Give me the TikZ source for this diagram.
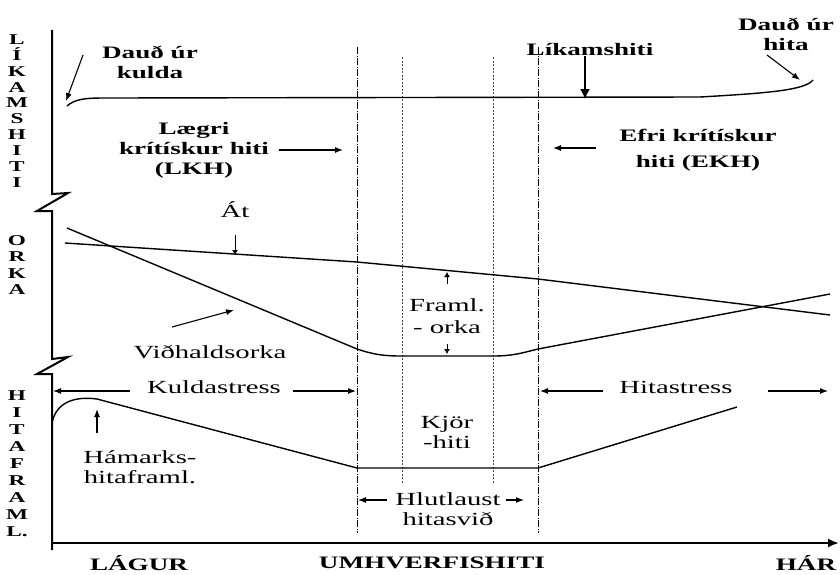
\documentclass[tikz,border=0pt]{standalone}
\usepackage{fontspec}
\setmainfont{Liberation Serif}[FakeStretch=1.55]
\usetikzlibrary{arrows.meta, positioning}

\tikzset{
  lbl/.style={font=\fontsize{18.5}{20}\selectfont, inner sep=0pt, align=center},
  blbl/.style={font=\fontsize{17.5}{20}\selectfont\bfseries, inner sep=0pt, align=center},
  sidelbl/.style={font=\fontsize{15}{#1}\selectfont\bfseries, inner sep=0pt, align=center},
  sidelbl/.default=16,
  axisline/.style={line width=2pt},
  graphline/.style={line width=1.4pt},
  zoneline/.style={line width=0.8pt, dash pattern=on 7pt off 1.5pt on 1pt off 1.5pt},
  optline/.style={line width=0.6pt, black!70, dash pattern=on 2pt off 1.5pt},
  ptr/.style={line width=1.1pt, -{Latex[length=8pt,width=6pt]}},
  bigptr/.style={line width=1.4pt, -{Latex[length=10pt,width=10pt]}},
  sptr/.style={line width=1pt, -{Latex[length=5pt,width=6pt]}},
}

\begin{document}
\begin{tikzpicture}[x=1pt,y=-1pt]
    \useasboundingbox (0,0) rectangle (840,574);

    % axes with breaks
    \draw[axisline] (52,30) -- (52,194) -- (68,193) -- (37,211) -- (52,211) -- (52,359)
        -- (68,357) -- (37,374) -- (52,374) -- (52,550);
    \draw[axisline, -{Latex[length=11pt,width=9pt]}] (52,543) -- (839,543);

    \node[sidelbl=15.9] (likams) at (17,111) {L\\Í\\K\\A\\M\\S\\H\\I\\T\\I};
    \node[sidelbl=16.5] (orka) at (17,265) {O\\R\\K\\A};
    \node[sidelbl=17] (hitafr) at (17,464) {H\\I\\T\\A\\F\\R\\A\\M\\L.};

    % zone borders
    \draw[zoneline] (357,47) -- (357,533);
    \draw[zoneline] (538,47) -- (538,533);
    \draw[optline] (402,57) -- (402,483);
    \draw[optline] (493,57) -- (493,483);

    % body temperature
    \draw[graphline] (67,106) .. controls (75,99) and (85,98) .. (105,98) -- (700,97)
        .. controls (770,93) and (805,90) .. (813,80);
    \node[blbl] (dkulda) at (150,62) {Dauð úr\\kulda};
    \coordinate (kuldafrom) at (83,55);
    \coordinate (kuldatip) at (66,101);
    \draw[ptr] (kuldafrom) -- (kuldatip);

    \node[blbl] (likam) at (590,50) {Líkamshiti};
    \coordinate (likamtip) at (585,99);
    \draw[bigptr] (likam.south -| likamtip) -- (likamtip);

    \node[blbl] (dhita) at (786,34) {Dauð úr\\hita};
    \coordinate (hitafrom) at (767,55);
    \coordinate (hitatip) at (800,80);
    \draw[ptr] (hitafrom) -- (hitatip);

    \node[blbl] (lkh) at (194,150) {Lægri\\krítískur hiti\\(LKH)};
    \coordinate (lkhtip) at (343,150);
    \draw[ptr] ([xshift=10pt]lkh.east) -- (lkhtip);

    \node[blbl] (ekh) at (698,150) {Efri krítískur\\[6pt]hiti (EKH)};
    \coordinate (ekhtip) at (553,148);
    \draw[ptr] (ekh.west |- ekhtip) ++(-23pt,0) -- (ekhtip);

    % energy
    \draw[graphline] (65,243) -- (357,262) -- (538,279) -- (830,315);
    \draw[graphline] (67,228) -- (357,349) .. controls (375,355) and (385,356) .. (402,356)
        -- (493,356) .. controls (515,356) and (525,352) .. (538,349) -- (830,294);

    \node[lbl] (at) at (235,210) {Át};
    \coordinate (attip) at (235,255);
    \draw[sptr] ([yshift=-17pt]at.south) -- (attip);

    \node[lbl] (vidh) at (210,352) {Viðhaldsorka};
    \coordinate (vidhfrom) at (172,327);
    \coordinate (vidhtip) at (234,310);
    \draw[ptr] (vidhfrom) -- (vidhtip);

    \node[lbl] (framl) at (447,316) {Framl.\\[2pt]- orka};
    \coordinate (fup) at (447,272);
    \coordinate (fdown) at (447,354);
    \draw[sptr] ([yshift=-12pt]fup) -- (fup);
    \draw[sptr] ([yshift=10pt]fdown) -- (fdown);

    % heat production
    \draw[graphline] (52,423) .. controls (56,402) and (75,396) .. (97,399) -- (357,468)
        -- (538,468) -- (737,407);

    \node[lbl] (kulda) at (214,387) {Kuldastress};
    \coordinate (kuldaleft) at (53,391);
    \coordinate (kuldaright) at (356,391);
    \draw[ptr] ([xshift=-17pt]kulda.west |- kuldaleft) -- (kuldaleft);
    \draw[ptr] ([xshift=12pt]kulda.east |- kuldaright) -- (kuldaright);

    \node[lbl] (hitas) at (676,387) {Hitastress};
    \coordinate (hitasleft) at (540,391);
    \coordinate (hitasright) at (828,391);
    \draw[ptr] ([xshift=-16pt]hitas.west |- hitasleft) -- (hitasleft);
    \draw[ptr] ([xshift=35pt]hitas.east |- hitasright) -- (hitasright);

    \node[lbl] (hamark) at (140,467) {Hámarks-\\hitaframl.};
    \coordinate (hamtip) at (97,409);
    \draw[ptr] ([yshift=-24pt]hamtip) -- (hamtip);

    \node[lbl] (kjor) at (447,432) {Kjör\\-hiti};

    \node[lbl] (hlut) at (448,509) {Hlutlaust\\hitasvið};
    \coordinate (hlutleft) at (358,500);
    \coordinate (hlutright) at (524,500);
    \draw[ptr] ([xshift=29pt]hlutleft) -- (hlutleft);
    \draw[ptr] ([xshift=-18pt]hlutright) -- (hlutright);

    % temperature scale
    \node[blbl] (lagur) at (139,563) {LÁGUR};
    \node[blbl] (umhv) at (432,563) {UMHVERFISHITI};
    \node[blbl] (har) at (806,563) {HÁR};
\end{tikzpicture}
\end{document}
